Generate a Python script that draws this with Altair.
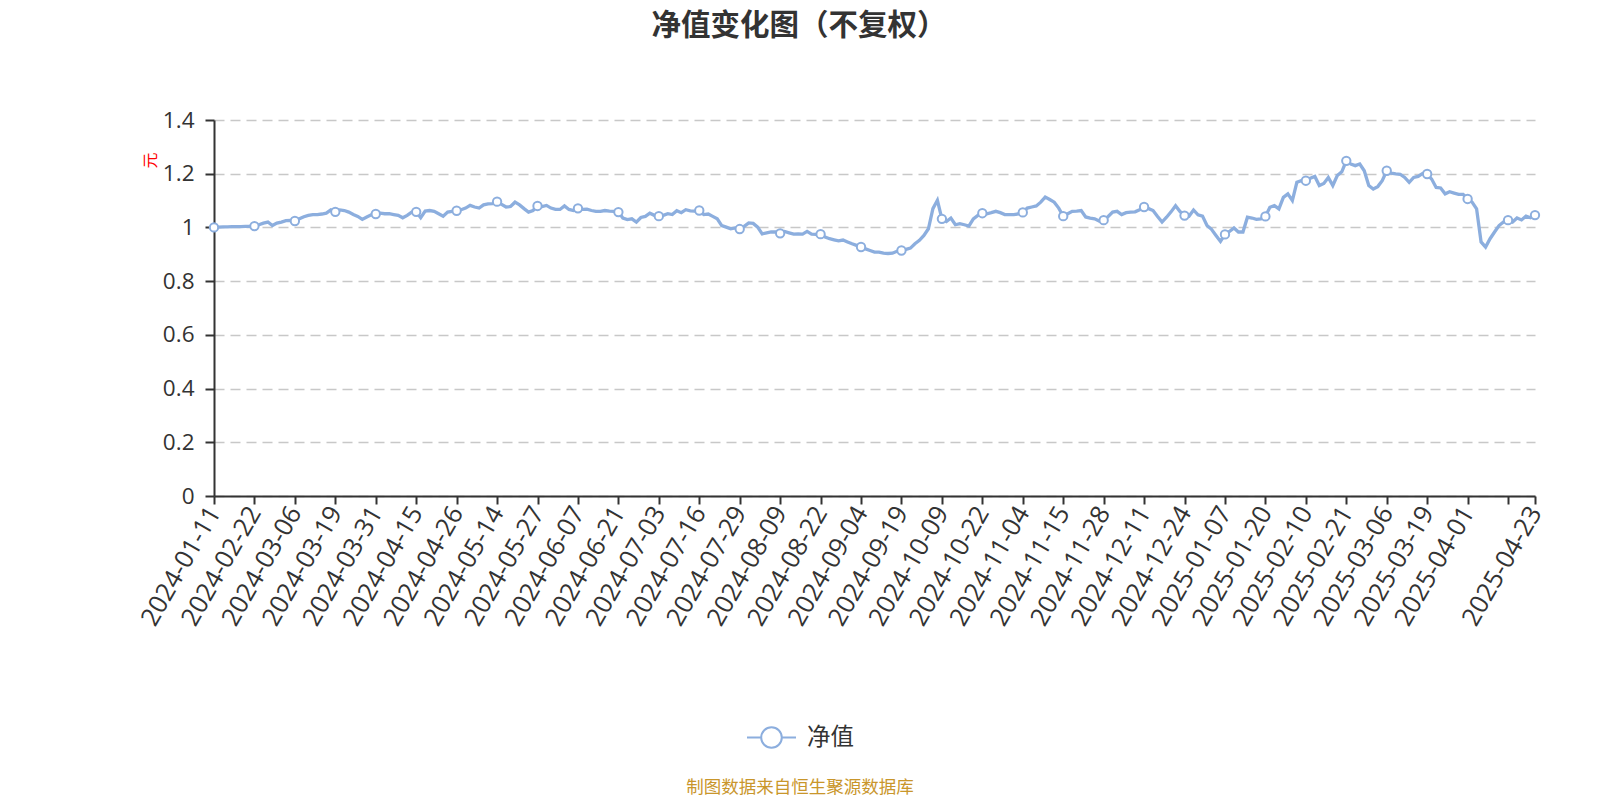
import altair as alt
import pandas as pd

TITLE = "净值变化图（不复权）"
SERIES = "净值"
UNIT = "元"
SOURCE = "制图数据来自恒生聚源数据库"
BLUE = "#8caede"
FONT = "Open Sans, Noto Sans CJK SC, sans-serif"

# Category axis: fund NAV dates (weekly during build-up, then trading days)
early_dates = ["2024-01-11", "2024-01-12", "2024-01-19", "2024-01-26", "2024-02-02",
               "2024-02-08", "2024-02-19", "2024-02-20", "2024-02-21"]
holidays = ["2024-04-04", "2024-04-05", "2024-05-01", "2024-05-02", "2024-05-03",
            "2024-06-10", "2024-09-16", "2024-09-17", "2024-10-01", "2024-10-02",
            "2024-10-03", "2024-10-04", "2024-10-07", "2025-01-01", "2025-01-28",
            "2025-01-29", "2025-01-30", "2025-01-31", "2025-02-03", "2025-02-04",
            "2025-04-04"]
extra_dates = ["2024-03-31", "2024-06-30"]

label_dates = ["2024-01-11", "2024-02-22", "2024-03-06", "2024-03-19", "2024-03-31",
               "2024-04-15", "2024-04-26", "2024-05-14", "2024-05-27", "2024-06-07",
               "2024-06-21", "2024-07-03", "2024-07-16", "2024-07-29", "2024-08-09",
               "2024-08-22", "2024-09-04", "2024-09-19", "2024-10-09", "2024-10-22",
               "2024-11-04", "2024-11-15", "2024-11-28", "2024-12-11", "2024-12-24",
               "2025-01-07", "2025-01-20", "2025-02-10", "2025-02-21", "2025-03-06",
               "2025-03-19", "2025-04-01", "2025-04-23"]
tick_only_dates = ["2025-04-15"]

nav = [
    1.000, 1.001, 1.002, 1.002, 1.003, 1.003, 1.003, 1.004, 1.004, 1.005,
    1.010, 1.016, 1.020, 1.007, 1.016, 1.020, 1.025, 1.026, 1.024, 1.032,
    1.040, 1.045, 1.048, 1.048, 1.050, 1.053, 1.065, 1.058, 1.065, 1.063,
    1.057, 1.048, 1.041, 1.030, 1.039, 1.047, 1.050, 1.053, 1.051, 1.051,
    1.048, 1.045, 1.036, 1.045, 1.057, 1.058, 1.036, 1.061, 1.063, 1.060,
    1.051, 1.042, 1.057, 1.060, 1.062, 1.066, 1.072, 1.082, 1.076, 1.072,
    1.084, 1.088, 1.089, 1.096, 1.086, 1.076, 1.078, 1.094, 1.084, 1.070,
    1.057, 1.063, 1.080, 1.078, 1.082, 1.072, 1.067, 1.067, 1.080, 1.067,
    1.063, 1.071, 1.067, 1.068, 1.063, 1.060, 1.060, 1.063, 1.061, 1.060,
    1.057, 1.035, 1.029, 1.032, 1.020, 1.037, 1.041, 1.053, 1.045, 1.042,
    1.045, 1.051, 1.048, 1.062, 1.055, 1.066, 1.062, 1.061, 1.063, 1.048,
    1.050, 1.041, 1.032, 1.007, 1.001, 0.995, 0.998, 0.994, 1.004, 1.017,
    1.015, 1.001, 0.976, 0.980, 0.983, 0.983, 0.978, 0.985, 0.980, 0.975,
    0.976, 0.975, 0.985, 0.975, 0.974, 0.975, 0.964, 0.958, 0.954, 0.950,
    0.953, 0.946, 0.939, 0.933, 0.927, 0.920, 0.914, 0.908, 0.908, 0.904,
    0.903, 0.904, 0.911, 0.914, 0.918, 0.923, 0.939, 0.952, 0.970, 0.995,
    1.070, 1.101, 1.032, 1.022, 1.035, 1.010, 1.014, 1.010, 1.005, 1.032,
    1.045, 1.053, 1.051, 1.055, 1.060, 1.055, 1.048, 1.048, 1.048, 1.050,
    1.056, 1.072, 1.076, 1.080, 1.094, 1.113, 1.104, 1.094, 1.072, 1.042,
    1.051, 1.060, 1.061, 1.063, 1.039, 1.035, 1.032, 1.024, 1.027, 1.041,
    1.057, 1.060, 1.048, 1.055, 1.057, 1.058, 1.066, 1.076, 1.070, 1.063,
    1.041, 1.020, 1.038, 1.058, 1.081, 1.059, 1.044, 1.042, 1.065, 1.047,
    1.042, 1.007, 0.993, 0.970, 0.948, 0.974, 0.985, 0.998, 0.983, 0.983,
    1.038, 1.035, 1.030, 1.032, 1.041, 1.075, 1.081, 1.069, 1.112, 1.125,
    1.100, 1.168, 1.174, 1.174, 1.183, 1.190, 1.156, 1.164, 1.186, 1.156,
    1.193, 1.207, 1.248, 1.236, 1.230, 1.236, 1.211, 1.156, 1.143, 1.152,
    1.174, 1.211, 1.202, 1.199, 1.198, 1.186, 1.168, 1.186, 1.190, 1.201,
    1.199, 1.180, 1.149, 1.147, 1.125, 1.133, 1.128, 1.123, 1.123, 1.106,
    1.094, 1.069, 0.946, 0.927, 0.958, 0.983, 1.007, 1.020, 1.027, 1.020,
    1.035, 1.028, 1.042, 1.036, 1.046,
]

bd = [d.strftime("%Y-%m-%d") for d in pd.bdate_range("2024-02-22", "2025-04-23")]
daily = sorted(set(d for d in bd if d not in holidays) | set(extra_dates))
dates = early_dates + daily
assert len(dates) == len(nav), (len(dates), len(nav))

df = pd.DataFrame({"date": dates, "nav": nav, "series": SERIES})
df["marker"] = (df.index % 9 == 0) | (df.index == len(df) - 1)

tick_values = sorted(label_dates + tick_only_dates)
hide_expr = " || ".join(f"datum.value == '{d}'" for d in tick_only_dates)

x_enc = alt.X(
    "date:O", sort=None, scale=alt.Scale(padding=0), title=None,
    axis=alt.Axis(values=tick_values, labelExpr=f"({hide_expr}) ? '' : datum.value",
                  labelAngle=-60, labelAlign="right", labelBaseline="middle",
                  labelFontSize=25.5, labelPadding=4, tickSize=8, tickWidth=2,
                  domainWidth=2, labelOverlap=False, grid=False, labelBound=False),
)
y_enc = alt.Y(
    "nav:Q", scale=alt.Scale(domain=[0, 1.4], nice=False, zero=True),
    axis=alt.Axis(values=[0, 0.2, 0.4, 0.6, 0.8, 1.0, 1.2, 1.4], format="~g",
                  title=UNIT, titleColor="#ff0000", titleFontSize=16,
                  titleFontWeight="normal", titleAngle=-90, titleX=-64, titleY=40,
                  titleAlign="center", titleBaseline="middle",
                  labelFontSize=22.5, labelPadding=11, tickSize=9, tickWidth=2,
                  domainWidth=2, grid=True, gridColor="#c8c8c8", gridDash=[10, 6],
                  gridWidth=1.5),
)

legend_path = ("M-1,0L-0.42,0M0.42,0L1,0"
               "M-0.42,0A0.42,0.42 0 1,0 0.42,0A0.42,0.42 0 1,0 -0.42,0Z")

line = alt.Chart(df).mark_line(strokeWidth=3.3).encode(
    x=x_enc, y=y_enc,
    color=alt.Color("series:N", scale=alt.Scale(range=[BLUE]),
                    legend=alt.Legend(title=None, orient="none", legendX=532, legendY=592,
                                      symbolType=legend_path, symbolSize=2401,
                                      symbolFillColor="white", symbolStrokeColor=BLUE,
                                      symbolStrokeWidth=2, labelFontSize=23.5,
                                      labelOffset=10, padding=0, labelColor="#333333")),
)
points = alt.Chart(df).transform_filter("datum.marker").mark_point(
    filled=True, fill="white", stroke=BLUE, strokeWidth=2, size=70, opacity=1
).encode(x=x_enc, y=y_enc)

title_layer = alt.Chart(pd.DataFrame({"t": [TITLE]})).mark_text(
    color="#333333", fontSize=29.5, fontWeight="bold", align="center",
    baseline="middle", font=FONT
).encode(text="t:N", x=alt.value(585), y=alt.value(-94))

footer = alt.Chart(pd.DataFrame({"t": [SOURCE]})).mark_text(
    color="#c9962b", fontSize=17.5, align="center", baseline="middle", font=FONT
).encode(text="t:N", x=alt.value(586), y=alt.value(668))

chart = alt.layer(line, points, title_layer, footer).properties(
    width=1321, height=376,
    autosize=alt.AutoSizeParams(type="none"),
    padding={"left": 206, "top": 112, "right": 50, "bottom": 304},
).configure(
    font=FONT, background="white",
).configure_view(stroke=None).configure_axis(
    labelColor="#333333", domainColor="#333333", tickColor="#333333", labelFont=FONT,
    titleFont=FONT,
).configure_legend(labelFont=FONT)

chart.save("out.html", embed_options={"renderer": "svg", "actions": False})
